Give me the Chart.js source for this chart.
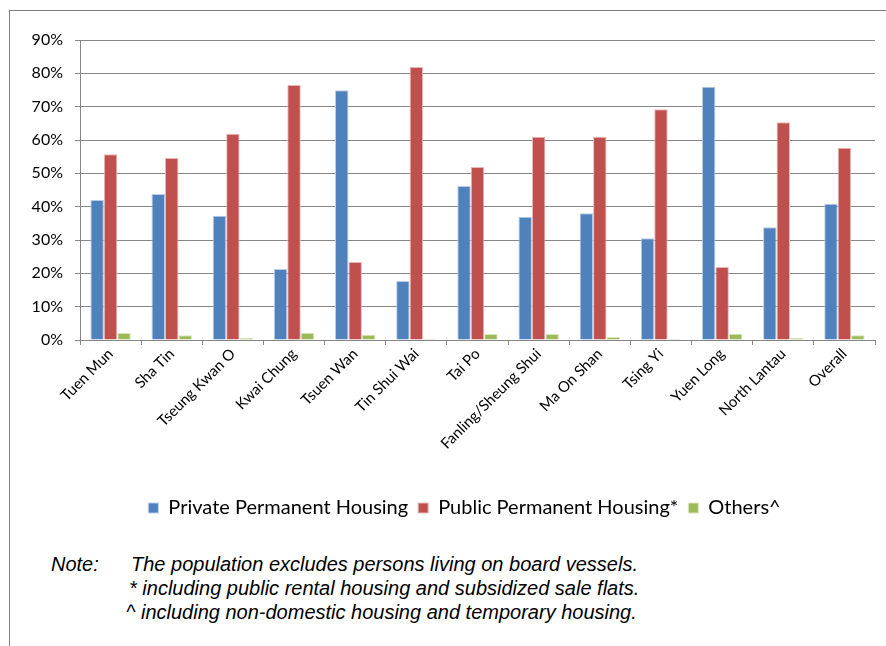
<!DOCTYPE html>
<html>
<head>
<meta charset="utf-8">
<script src="https://cdn.jsdelivr.net/npm/chart.js@4"></script>
<style>
  body { margin: 0; background: #fff; width: 886px; height: 646px; overflow: hidden; position: relative; }
  #frame { position: absolute; left: 9px; top: 10px; right: -5px; bottom: -5px; border-left: 1px solid #808080; border-top: 1px solid #808080; }
  #c { position: absolute; left: 0; top: 0; }
  .note { position: absolute; font-family: "Liberation Sans", Arial, sans-serif; font-style: italic; font-size: 20px; line-height: 23px; color: #000; white-space: nowrap; }
</style>
</head>
<body>
<div id="frame"></div>
<canvas id="c" width="886" height="540"></canvas>
<div class="note" style="left:51px; top:553px;">Note:</div>
<div class="note" style="left:131px; top:553px;">The population excludes persons living on board vessels.</div>
<div class="note" style="left:129px; top:577px;">* including public rental housing and subsidized sale flats.</div>
<div class="note" style="left:126px; top:601px;">^ including non-domestic housing and temporary housing.</div>
<script>
// districts
var distritos = ['Tuen Mun','Sha Tin','Tseung Kwan O','Kwai Chung','Tsuen Wan','Tin Shui Wai','Tai Po',
  'Fanling/Sheung Shui','Ma On Shan','Tsing Yi','Yuen Long','North Lantau','Overall'];

// % of population by housing type
var privada = [42.0, 43.8, 37.3, 21.3, 74.9, 17.7, 46.2, 37.0, 38.0, 30.5, 76.0, 33.8, 40.9];
var publica = [55.7, 54.6, 61.9, 76.5, 23.4, 81.9, 51.9, 61.0, 61.0, 69.2, 21.9, 65.3, 57.7];
var otros   = [2.1, 1.4, 0.6, 2.2, 1.6, 0.3, 1.8, 1.8, 0.9, 0.3, 1.9, 0.6, 1.4];

var nombres = ['Private Permanent Housing', 'Public Permanent Housing*', 'Others^'];
var ticksY = [0, 10, 20, 30, 40, 50, 60, 70, 80, 90];

var fuente = 'Lato, "Liberation Sans", sans-serif';

// move the legend a bit to the right, the original is not centered on the page
var moverLeyenda = {
  id: 'moverLeyenda',
  afterLayout: function(chart) {
    chart.legend.left += 27;
    chart.legend.right += 27;
  }
};

var ctx = document.getElementById('c').getContext('2d');
var myChart = new Chart(ctx, {
  type: 'bar',
  data: {
    labels: distritos,
    datasets: [
      { label: nombres[0], data: privada, backgroundColor: '#4F81BD', borderColor: '#B9CDE5', borderWidth: 1 },
      { label: nombres[1], data: publica, backgroundColor: '#C0504D', borderColor: '#E6B9B8', borderWidth: 1 },
      { label: nombres[2], data: otros,   backgroundColor: '#9BBB59', borderColor: '#D7E4BD', borderWidth: 1 }
    ]
  },
  plugins: [moverLeyenda],
  options: {
    responsive: false,
    animation: false,
    layout: { padding: { left: 0, right: 11, top: 40, bottom: 12 } },
    datasets: { bar: { categoryPercentage: 0.66, barPercentage: 1 } },
    plugins: {
      tooltip: { enabled: false },
      legend: {
        position: 'bottom',
        labels: {
          boxWidth: 10, boxHeight: 10, padding: 10,
          color: '#000',
          font: { family: fuente, size: 20 }
        }
      }
    },
    scales: {
      x: {
        afterFit: function(s) { s.height = 148; },
        grid: { display: true, drawOnChartArea: false, drawTicks: true, tickLength: 5, color: '#868686', offset: true },
        border: { display: true, color: '#868686' },
        ticks: { minRotation: 45, maxRotation: 45, padding: 0, color: '#000', font: { family: fuente, size: 15 } }
      },
      y: {
        min: 0, max: 90,
        afterFit: function(s) { s.width = 80; },
        afterBuildTicks: function(s) { s.ticks = ticksY.map(function(v) { return { value: v }; }); },
        grid: { color: '#868686', tickLength: 5, lineWidth: 1 },
        border: { display: true, color: '#868686' },
        ticks: {
          padding: 12, color: '#000',
          font: { family: fuente, size: 16 },
          callback: function(v) { return v + '%'; }
        }
      }
    }
  }
});
</script>
</body>
</html>
